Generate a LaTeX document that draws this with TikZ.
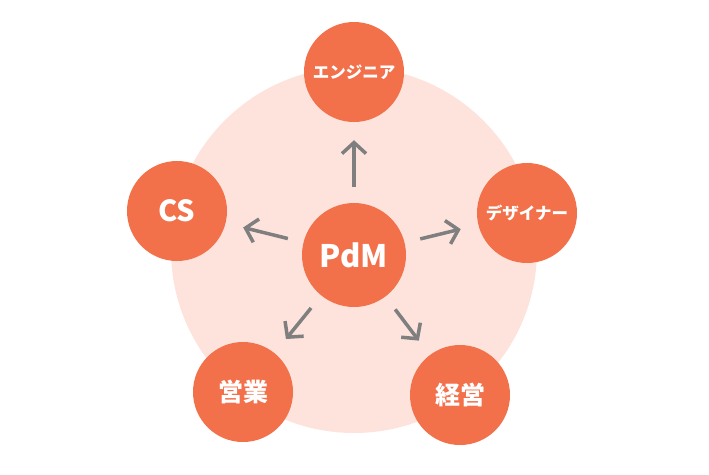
\documentclass[tikz,border=0pt]{standalone}
\usepackage{fontspec}
\setmainfont{Noto Sans CJK JP}
\usetikzlibrary{arrows.meta}
\definecolor{pinkbg}{HTML}{FDE3DC}
\definecolor{orng}{HTML}{F2704A}
\definecolor{arrg}{HTML}{7F7F7F}
\begin{document}
\begin{tikzpicture}[x=1pt,y=-1pt,
  sat/.style={circle,fill=orng,minimum size=100pt,inner sep=0pt,text=white,font=\bfseries},
  arr/.style={draw=arrg,line width=3.5pt,-{Straight Barb[length=11pt,width=24pt]},shorten <=16pt,shorten >=18pt}]
\useasboundingbox (0,0) rectangle (709,474);
\fill[pinkbg] (354,250) circle (183);
\node[sat,minimum size=104pt,font=\bfseries\fontsize{31}{33}\selectfont] (pdm) at (354,255) {PdM};
\node[sat,font=\bfseries\fontsize{16.5}{18}\selectfont] (eng) at (354,72) {エンジニア};
\node[sat,font=\bfseries\fontsize{16.5}{18}\selectfont] (des) at (527,213) {デザイナー};
\node[sat,font=\bfseries\fontsize{29}{31}\selectfont] (cs) at (177,211) {CS};
\node[sat,font=\bfseries\fontsize{25}{27}\selectfont] (eig) at (243,392) {営業};
\node[sat,font=\bfseries\fontsize{25}{27}\selectfont] (kei) at (460,395) {経営};
\foreach \t in {eng,des,cs,eig,kei} \draw[arr] (pdm) -- (\t);
\end{tikzpicture}
\end{document}
